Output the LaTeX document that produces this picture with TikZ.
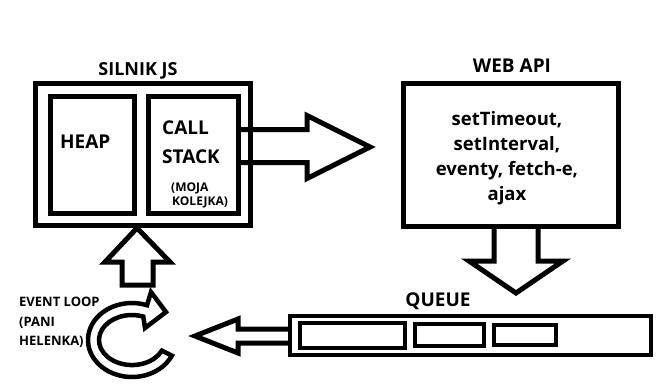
\documentclass[tikz,border=0pt]{standalone}
\usepackage{fontspec}
\setmainfont{Open Sans}
\begin{document}
\begin{tikzpicture}[x=1pt,y=-1pt,
  frame/.style={draw=black,line width=5pt},
  thinframe/.style={draw=black,line width=4pt},
  blockarrow/.style={draw=black,line width=5pt,line join=miter},
  title/.style={font=\bfseries\fontsize{18}{18}\selectfont,anchor=base,inner sep=0pt},
  boxtext/.style={font=\bfseries\fontsize{19}{19}\selectfont,anchor=base west,inner sep=0pt},
  smalltext/.style={font=\bfseries\fontsize{12}{12}\selectfont,anchor=base west,inner sep=0pt},
  sidetext/.style={font=\bfseries\fontsize{13}{13}\selectfont,anchor=base west,inner sep=0pt},
  apitext/.style={font=\bfseries\fontsize{18.5}{18.5}\selectfont,anchor=base,inner sep=0pt}
]
\useasboundingbox[fill=white] (0,0) rectangle (672,384);

% JS engine with heap and call stack
\node[frame,minimum width=215pt,minimum height=142pt,inner sep=0pt] (engine) at (143,154.5) {};
\node[frame,minimum width=84pt,minimum height=117pt,inner sep=0pt] (heap) at (92.5,155) {};
\node[frame,minimum width=90pt,minimum height=117pt,inner sep=0pt] (stack) at (193.5,155) {};
\node[title] (enginetitle) at (138,75) {SILNIK JS};
\node[boxtext] (heaplabel) at (60,148) {HEAP};
\node[boxtext] (calllabel) at (162,134) {CALL};
\node[boxtext] (stacklabel) at (162,163) {STACK};
\node[smalltext] (mojalabel) at (171,191) {(MOJA};
\node[smalltext] (kolejkalabel) at (172,205) {KOLEJKA)};

% Web API box
\node[frame,minimum width=215pt,minimum height=143pt,inner sep=0pt] (webapi) at (511,155) {};
\node[title,font=\bfseries\fontsize{19}{19}\selectfont] (webtitle) at (512,72) {WEB API};
\node[apitext] (apia) at (507,125) {setTimeout,};
\node[apitext] (apib) at (507,150) {setInterval,};
\node[apitext] (apic) at (507,175) {eventy, fetch-e,};
\node[apitext] (apid) at (507,200) {ajax};

% Callback queue with three waiting tasks
\node[thinframe,minimum width=361pt,minimum height=39pt,inner sep=0pt] (queue) at (470.5,335.5) {};
\node[thinframe,minimum width=105pt,minimum height=25pt,inner sep=0pt] (slota) at (352.5,335.5) {};
\node[thinframe,minimum width=69pt,minimum height=22pt,inner sep=0pt] (slotb) at (449.5,335) {};
\node[thinframe,minimum width=62pt,minimum height=20pt,inner sep=0pt] (slotc) at (525,335) {};
\node[title,font=\bfseries\fontsize{19}{19}\selectfont] (queuetitle) at (438,306) {QUEUE};

% Event loop label
\node[sidetext] (looplabel) at (19,306) {EVENT LOOP};
\node[sidetext] (panilabel) at (19,326) {(PANI};
\node[sidetext] (helenkalabel) at (19,345) {HELENKA)};

% Block arrow: call stack -> web api
\draw[blockarrow] (stack.east |- 0,129.5) -- (307,129.5) -- (307,115.5) -- (370,147)
  -- (307,178.5) -- (307,162.5) -- (stack.east |- 0,162.5);

% Block arrow: web api -> queue
\draw[blockarrow] (494,0 |- webapi.south) -- (494,261) -- (469,261) -- (516,293)
  -- (563,261) -- (538,261) -- (538,0 |- webapi.south);

% Block arrow: queue -> event loop
\draw[blockarrow] (queue.west |- 0,329) -- (238,329) -- (238,319) -- (195,336)
  -- (238,353) -- (238,343) -- (queue.west |- 0,343);

% Block arrow: event loop -> engine
\draw[blockarrow] (122,285) -- (122,262) -- (105,262) -- (137,0 |- engine.south)
  -- (170,262) -- (153,262) -- (153,285) -- cycle;

% Circular event loop arrow
\draw[blockarrow,line width=4.5pt] (147.05,305.23)
  arc[start angle=-70,end angle=-335,x radius=44,y radius=37]
  -- (161.9,350.6)
  arc[start angle=-335,end angle=-70,x radius=33,y radius=25]
  -- (145,328) -- (166,312) -- (151,292) -- cycle;
\end{tikzpicture}
\end{document}
